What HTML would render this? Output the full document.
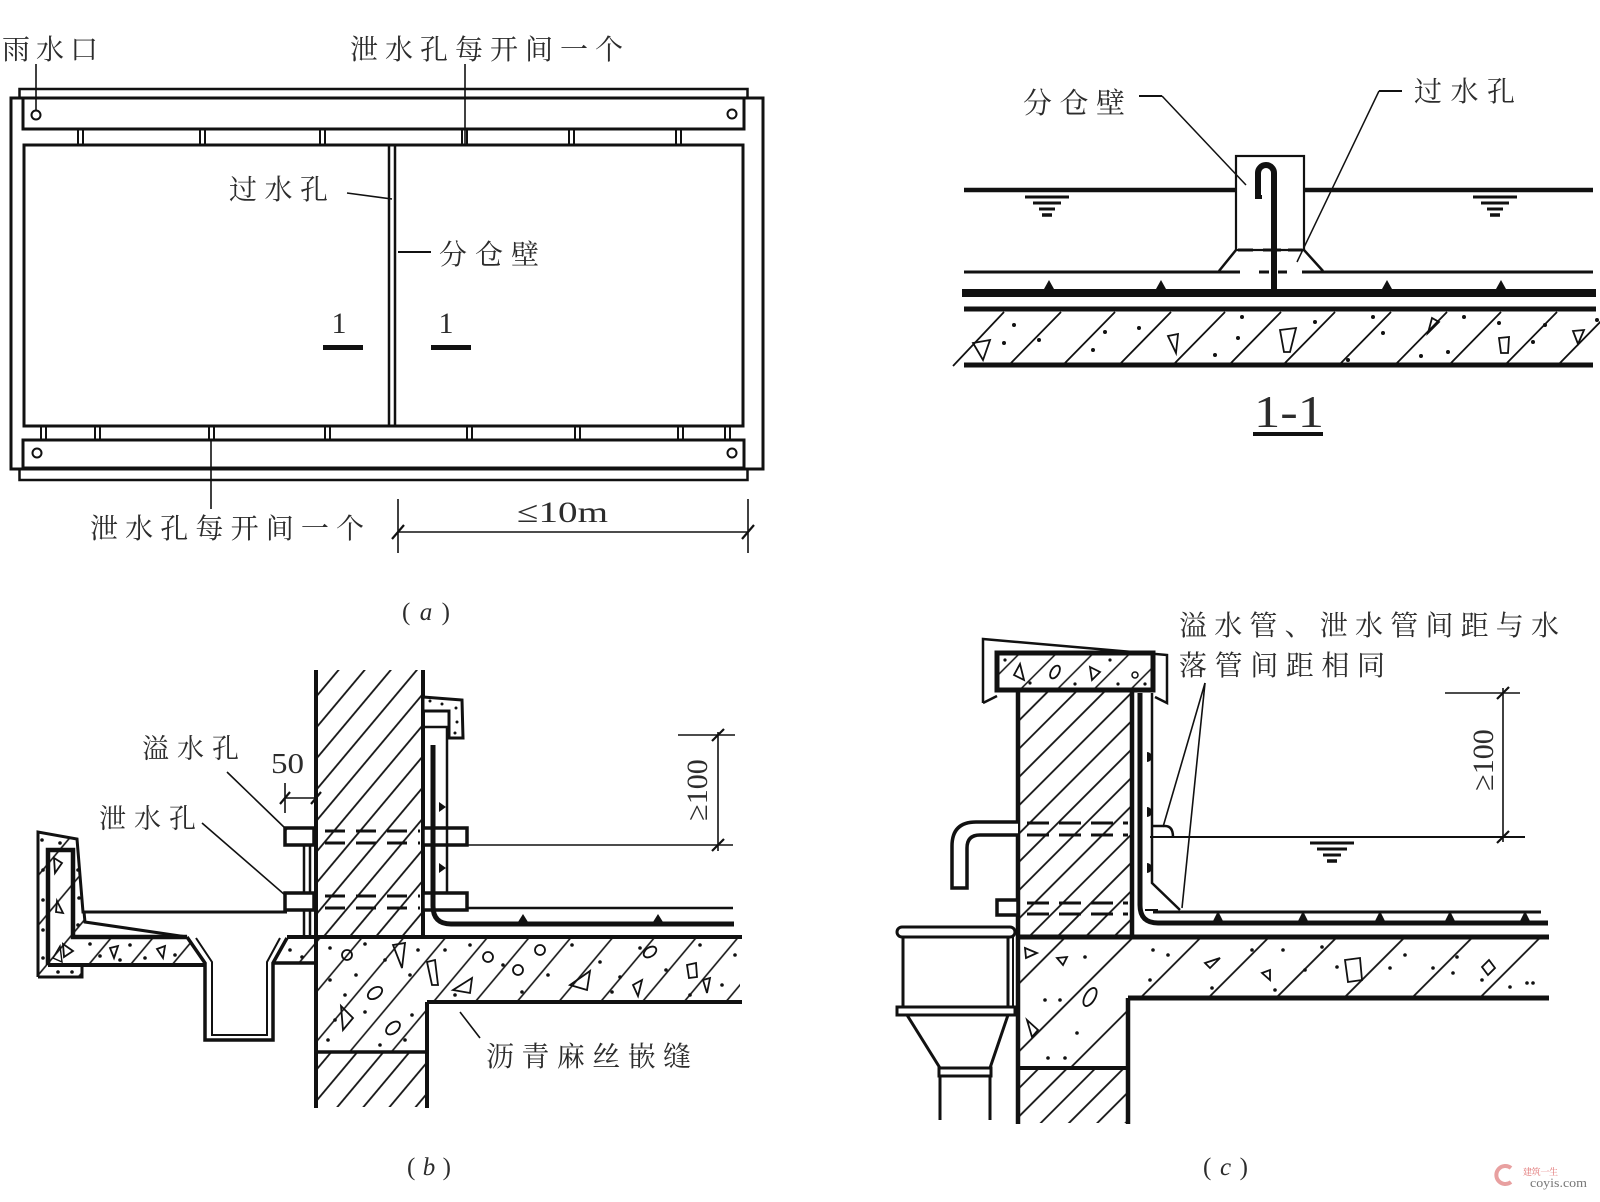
<!DOCTYPE html>
<html><head><meta charset="utf-8"><style>
html,body{margin:0;padding:0;background:#fff;}
svg{display:block;}
text{font-family:"Liberation Serif","Noto Serif CJK SC",serif;fill:#2c2c2c;}
</style></head><body>
<svg width="1600" height="1202" viewBox="0 0 1600 1202" xmlns="http://www.w3.org/2000/svg">
<defs>
<pattern id="hb" width="20" height="20" patternUnits="userSpaceOnUse" patternTransform="rotate(40)"><line x1="10" y1="-2" x2="10" y2="22" stroke="#111" stroke-width="1.8"/></pattern>
<pattern id="hc" width="20" height="20" patternUnits="userSpaceOnUse" patternTransform="rotate(45)"><line x1="10" y1="-2" x2="10" y2="22" stroke="#111" stroke-width="1.8"/></pattern>
<pattern id="sb" width="32" height="32" patternUnits="userSpaceOnUse" patternTransform="rotate(40)"><line x1="16" y1="-2" x2="16" y2="34" stroke="#111" stroke-width="1.6"/></pattern>
<pattern id="sc" width="48" height="48" patternUnits="userSpaceOnUse" patternTransform="rotate(45)"><line x1="24" y1="-2" x2="24" y2="50" stroke="#111" stroke-width="1.8"/></pattern>
<pattern id="sd" width="26" height="26" patternUnits="userSpaceOnUse" patternTransform="rotate(45)"><line x1="13" y1="-2" x2="13" y2="28" stroke="#111" stroke-width="1.5"/></pattern>
</defs>

<!-- ================= (a) PLAN ================= -->
<g stroke="#111" fill="none">
<rect x="19.5" y="89" width="728" height="9" stroke-width="2.5"/>
<rect x="11" y="98" width="752" height="371" stroke-width="3"/>
<rect x="23" y="98" width="721" height="31" stroke-width="3"/>
<rect x="24" y="145" width="719" height="281" stroke-width="3"/>
<rect x="23" y="440" width="721" height="28" stroke-width="3"/>
<rect x="19.5" y="469" width="728" height="11" stroke-width="2.5"/>
<g stroke-width="2">
<line x1="78" y1="129" x2="78" y2="145"/><line x1="83" y1="129" x2="83" y2="145"/>
<line x1="200" y1="129" x2="200" y2="145"/><line x1="205" y1="129" x2="205" y2="145"/>
<line x1="320" y1="129" x2="320" y2="145"/><line x1="325" y1="129" x2="325" y2="145"/>
<line x1="462" y1="129" x2="462" y2="145"/><line x1="467" y1="129" x2="467" y2="145"/>
<line x1="569" y1="129" x2="569" y2="145"/><line x1="574" y1="129" x2="574" y2="145"/>
<line x1="676" y1="129" x2="676" y2="145"/><line x1="681" y1="129" x2="681" y2="145"/>
<line x1="41" y1="426" x2="41" y2="440"/><line x1="46" y1="426" x2="46" y2="440"/>
<line x1="95" y1="426" x2="95" y2="440"/><line x1="100" y1="426" x2="100" y2="440"/>
<line x1="209" y1="426" x2="209" y2="440"/><line x1="214" y1="426" x2="214" y2="440"/>
<line x1="325" y1="426" x2="325" y2="440"/><line x1="330" y1="426" x2="330" y2="440"/>
<line x1="467" y1="426" x2="467" y2="440"/><line x1="472" y1="426" x2="472" y2="440"/>
<line x1="575" y1="426" x2="575" y2="440"/><line x1="580" y1="426" x2="580" y2="440"/>
<line x1="678" y1="426" x2="678" y2="440"/><line x1="683" y1="426" x2="683" y2="440"/>
<line x1="725" y1="426" x2="725" y2="440"/><line x1="730" y1="426" x2="730" y2="440"/>
</g>
<g stroke-width="2">
<circle cx="36" cy="115" r="4.5"/><circle cx="732" cy="114" r="4.5"/>
<circle cx="37" cy="453" r="4.5"/><circle cx="732" cy="453" r="4.5"/>
</g>
<line x1="389" y1="145" x2="389" y2="426" stroke-width="2.5"/>
<line x1="395" y1="145" x2="395" y2="426" stroke-width="2.5"/>
<g stroke-width="1.6">
<line x1="36" y1="64" x2="36" y2="110"/>
<line x1="465" y1="64" x2="465" y2="145"/>
<line x1="347" y1="193" x2="392" y2="199"/>
<line x1="398" y1="252" x2="431" y2="252" stroke-width="2"/>
<line x1="211" y1="440" x2="211" y2="509"/>
<line x1="398" y1="499" x2="398" y2="553"/>
<line x1="748" y1="499" x2="748" y2="553"/>
<line x1="398" y1="532" x2="748" y2="532"/>
<line x1="392" y1="539" x2="404" y2="525" stroke-width="2.2"/>
<line x1="742" y1="539" x2="754" y2="525" stroke-width="2.2"/>
</g>
</g>
<rect x="323" y="345" width="40" height="5" fill="#111"/>
<rect x="431" y="345" width="40" height="5" fill="#111"/>
<text x="2" y="59" font-size="28" textLength="96" lengthAdjust="spacing">雨水口</text>
<text x="350" y="59" font-size="28" textLength="273" lengthAdjust="spacing">泄水孔每开间一个</text>
<text x="229" y="199" font-size="28" textLength="99" lengthAdjust="spacing">过水孔</text>
<text x="439" y="264" font-size="28" textLength="100" lengthAdjust="spacing">分仓壁</text>
<text x="339" y="333" font-size="30" text-anchor="middle">1</text>
<text x="446" y="333" font-size="30" text-anchor="middle">1</text>
<text x="90" y="538" font-size="28" textLength="274" lengthAdjust="spacing">泄水孔每开间一个</text>
<text x="517" y="522" font-size="30" textLength="91" lengthAdjust="spacingAndGlyphs">≤10m</text>
<text x="402" y="620" font-size="25" textLength="48" lengthAdjust="spacing">( <tspan font-style="italic">a</tspan> )</text>

<!-- ================= 1-1 SECTION ================= -->
<g stroke="#111" fill="none">
<rect x="1236" y="156" width="68" height="94" stroke-width="2.2"/>
<line x1="964" y1="190" x2="1236" y2="190" stroke-width="4.5"/>
<line x1="1304" y1="190" x2="1593" y2="190" stroke-width="4.5"/>
<g stroke-width="3">
<line x1="1025" y1="197" x2="1069" y2="197"/><line x1="1033" y1="203" x2="1061" y2="203"/>
<line x1="1039" y1="209" x2="1055" y2="209"/><line x1="1042" y1="215" x2="1052" y2="215" stroke-width="3.5"/>
<line x1="1473" y1="197" x2="1517" y2="197"/><line x1="1481" y1="203" x2="1509" y2="203"/>
<line x1="1487" y1="209" x2="1503" y2="209"/><line x1="1490" y1="215" x2="1500" y2="215" stroke-width="3.5"/>
</g>
<path d="M1258,198 L1258,173 A8,8 0 0 1 1274,173 L1274,291" stroke-width="6"/>
<line x1="1255" y1="197" x2="1262" y2="197" stroke-width="4"/>
<g stroke-width="3">
<line x1="1238" y1="250" x2="1253" y2="250"/><line x1="1263" y1="250" x2="1281" y2="250"/><line x1="1288" y1="250" x2="1302" y2="250"/>
<line x1="964" y1="272" x2="1240" y2="272"/><line x1="1259" y1="272" x2="1269" y2="272"/><line x1="1278" y1="272" x2="1287" y2="272"/><line x1="1302" y1="272" x2="1593" y2="272"/>
</g>
<line x1="1236" y1="250" x2="1219" y2="271" stroke-width="2.5"/>
<line x1="1304" y1="250" x2="1323" y2="271" stroke-width="2.5"/>
<line x1="962" y1="293" x2="1596" y2="293" stroke-width="8"/>
<line x1="964" y1="309" x2="1596" y2="309" stroke-width="5"/>
<line x1="964" y1="365" x2="1593" y2="365" stroke-width="5"/>
<g stroke-width="1.8">
<line x1="953" y1="366" x2="1004" y2="312"/><line x1="1010" y1="364" x2="1061" y2="312"/>
<line x1="1064" y1="364" x2="1115" y2="312"/><line x1="1120" y1="364" x2="1171" y2="312"/>
<line x1="1174" y1="364" x2="1225" y2="312"/><line x1="1230" y1="364" x2="1281" y2="312"/>
<line x1="1284" y1="364" x2="1335" y2="312"/><line x1="1340" y1="364" x2="1391" y2="312"/>
<line x1="1396" y1="364" x2="1447" y2="312"/><line x1="1450" y1="364" x2="1501" y2="312"/>
<line x1="1506" y1="364" x2="1557" y2="312"/><line x1="1559" y1="364" x2="1610" y2="312"/>
</g>
<g stroke-width="1.8">
<polygon points="973,343 990,340 983,360"/>
<polygon points="1168,336 1178,334 1176,353"/>
<polygon points="1280,330 1296,328 1290,352 1284,352"/>
<polygon points="1428,333 1432,318 1439,322"/>
<polygon points="1499,338 1509,337 1508,353 1501,353"/>
<polygon points="1573,331 1584,330 1578,344"/>
</g>
<g stroke-width="1.5">
<line x1="1139" y1="96" x2="1162" y2="96" stroke-width="2"/>
<line x1="1162" y1="96" x2="1246" y2="185"/>
<line x1="1402" y1="91" x2="1379" y2="91" stroke-width="2"/>
<line x1="1379" y1="91" x2="1297" y2="262"/>
</g>
<line x1="1253" y1="434" x2="1323" y2="434" stroke-width="4"/>
</g>
<g fill="#111">
<path d="M1049,280 L1054,289 L1044,289Z M1161,280 L1166,289 L1156,289Z M1387,280 L1392,289 L1382,289Z M1501,280 L1506,289 L1496,289Z"/>
<circle cx="1014" cy="325" r="2"/><circle cx="1004" cy="343" r="2"/><circle cx="1039" cy="340" r="2"/>
<circle cx="1105" cy="332" r="2"/><circle cx="1139" cy="328" r="2"/><circle cx="1093" cy="350" r="2"/>
<circle cx="1242" cy="317" r="2"/><circle cx="1238" cy="338" r="2"/><circle cx="1215" cy="355" r="2"/>
<circle cx="1315" cy="322" r="2"/><circle cx="1373" cy="317" r="2"/><circle cx="1383" cy="333" r="2"/>
<circle cx="1348" cy="360" r="2"/><circle cx="1464" cy="317" r="2"/><circle cx="1448" cy="352" r="2"/>
<circle cx="1421" cy="356" r="2"/><circle cx="1499" cy="323" r="2"/><circle cx="1545" cy="325" r="2"/>
<circle cx="1533" cy="342" r="2"/><circle cx="1597" cy="320" r="2"/>
</g>
<text x="1023" y="113" font-size="29" textLength="102" lengthAdjust="spacing">分仓壁</text>
<text x="1414" y="101" font-size="28" textLength="101" lengthAdjust="spacing">过水孔</text>
<text x="1254" y="427" font-size="46" textLength="70" lengthAdjust="spacingAndGlyphs">1-1</text>

<!-- ================= (b) ================= -->
<!-- hatched fills -->
<rect x="316" y="670" width="107" height="267" fill="url(#hb)"/>
<rect x="316" y="1052" width="111" height="55" fill="url(#hb)"/>
<polygon points="38,832 77,839 84,923 84,937 187,937 205,963 205,967 82,967 82,977 38,977" fill="url(#sb)"/>
<polygon points="273,963 287,938 740,938 740,1002 427,1002 427,1052 316,1052 316,963" fill="url(#sb)"/>
<!-- white inside gutter upturn -->
<g stroke="#111" fill="none" stroke-linejoin="miter">
<!-- parapet outer -->
<path d="M38,977 L38,832 L77,839 L83,912 L287,912" stroke-width="3"/>
<path d="M84,912 L85,922 L187,937" stroke-width="3"/>
<path d="M38,977 L82,977 L82,965" stroke-width="3"/>
<!-- inner waterproof thick -->
<path d="M48,965 L48,850 L73,850 L73,937 L187,937" stroke-width="4.5"/>
<path d="M48,965 L205,965" stroke-width="4"/>
<!-- drain -->
<path d="M187,937 L205,963 L205,1040 L273,1040 L273,963 L287,938" stroke-width="3.5"/>
<path d="M196,938 L212,962 L212,1035 L267,1035 L267,962 L280,938" stroke-width="2"/>
<line x1="273" y1="963" x2="316" y2="963" stroke-width="3.5"/>
<!-- slab -->
<line x1="287" y1="937" x2="742" y2="937" stroke-width="4"/>
<line x1="427" y1="1002" x2="742" y2="1002" stroke-width="4"/>
<!-- wall -->
<line x1="316" y1="670" x2="316" y2="1108" stroke-width="4"/>
<line x1="423" y1="670" x2="423" y2="937" stroke-width="4"/>
<line x1="427" y1="1002" x2="427" y2="1108" stroke-width="4"/>
<line x1="316" y1="1052" x2="427" y2="1052" stroke-width="3.5"/>
<!-- small vertical member -->
<line x1="304" y1="845" x2="304" y2="937" stroke-width="2.5"/>
<line x1="310" y1="845" x2="310" y2="937" stroke-width="2.5"/>
<!-- pipes -->
<rect x="285" y="828" width="29" height="17" stroke-width="3.5" fill="#fff"/>
<rect x="285" y="893" width="29" height="17" stroke-width="3.5" fill="#fff"/>
<g stroke-width="3" stroke-dasharray="20 11">
<line x1="325" y1="831" x2="420" y2="831"/><line x1="325" y1="843" x2="420" y2="843"/>
<line x1="325" y1="896" x2="420" y2="896"/><line x1="325" y1="908" x2="420" y2="908"/>
</g>
<rect x="423" y="828" width="44" height="17" stroke-width="3.5" fill="#fff"/>
<rect x="423" y="893" width="44" height="17" stroke-width="3.5" fill="#fff"/>
<!-- cap -->
<polygon points="423,697 462,700 463,738 449,738 449,711 423,711" stroke-width="3" fill="#fff"/>
<!-- protective thin -->
<path d="M423,727 L447,727 L447,893" stroke-width="2.5"/>
<line x1="467" y1="908" x2="733" y2="908" stroke-width="2.5"/>
<!-- membrane -->
<path d="M433,745 L433,906 Q433,924 451,924 L734,924" stroke-width="5"/>
<!-- dims -->
<g stroke-width="1.6">
<line x1="284" y1="798" x2="318" y2="798"/>
<line x1="285" y1="783" x2="285" y2="813"/>
<line x1="280" y1="804" x2="290" y2="792" stroke-width="2.2"/>
<line x1="311" y1="804" x2="321" y2="792" stroke-width="2.2"/>
<line x1="227" y1="772" x2="287" y2="830"/>
<line x1="202" y1="823" x2="285" y2="895"/>
<line x1="718" y1="732" x2="718" y2="851"/>
<line x1="678" y1="735" x2="735" y2="735"/>
<line x1="467" y1="845" x2="733" y2="845"/>
<line x1="712" y1="741" x2="724" y2="729" stroke-width="2.2"/>
<line x1="712" y1="851" x2="724" y2="839" stroke-width="2.2"/>
<line x1="460" y1="1012" x2="480" y2="1038"/>
</g>
<!-- aggregates -->
<g stroke-width="1.8">
<circle cx="347" cy="955" r="5"/>
<ellipse cx="375" cy="993" rx="8" ry="5" transform="rotate(-35 375 993)"/>
<ellipse cx="393" cy="1028" rx="8" ry="5" transform="rotate(-40 393 1028)"/>
<circle cx="488" cy="957" r="5"/><circle cx="518" cy="970" r="5"/><circle cx="540" cy="950" r="5"/>
<ellipse cx="650" cy="952" rx="7" ry="4.5" transform="rotate(-35 650 952)"/>
<polygon points="393,945 405,943 402,968"/>
<polygon points="341,1006 353,1018 343,1030"/>
<polygon points="427,962 435,960 438,985 432,985"/>
<polygon points="453,990 472,978 470,993"/>
<polygon points="570,985 590,971 587,990"/>
<polygon points="633,985 642,980 638,996"/>
<polygon points="687,965 696,963 697,977 689,978"/>
<polygon points="703,980 710,978 707,993"/>
<polygon points="54,858 62,863 55,873"/>
<polygon points="57,901 63,913 56,912"/>
<polygon points="63,944 73,951 64,957"/>
<polygon points="110,948 118,946 114,958"/>
<polygon points="157,949 165,946 163,958"/>
<polygon points="53,958 60,946 62,962" stroke-width="1.4"/>
</g>
</g>
<g fill="#111">
<circle cx="42" cy="840" r="1.8"/><circle cx="60" cy="843" r="1.8"/><circle cx="43" cy="870" r="1.8"/>
<circle cx="78" cy="870" r="1.8"/><circle cx="43" cy="900" r="1.8"/><circle cx="79" cy="898" r="1.8"/>
<circle cx="43" cy="930" r="1.8"/><circle cx="78" cy="925" r="1.8"/><circle cx="43" cy="958" r="1.8"/>
<circle cx="58" cy="972" r="1.8"/><circle cx="72" cy="972" r="1.8"/><circle cx="90" cy="944" r="1.8"/>
<circle cx="100" cy="956" r="1.8"/><circle cx="130" cy="945" r="1.8"/><circle cx="145" cy="958" r="1.8"/>
<circle cx="175" cy="955" r="1.8"/><circle cx="120" cy="960" r="1.8"/>
<circle cx="290" cy="950" r="1.8"/><circle cx="302" cy="957" r="1.8"/><circle cx="330" cy="948" r="1.8"/>
<circle cx="365" cy="944" r="1.8"/><circle cx="385" cy="960" r="1.8"/><circle cx="330" cy="980" r="1.8"/>
<circle cx="356" cy="975" r="1.8"/><circle cx="410" cy="975" r="1.8"/><circle cx="335" cy="1020" r="1.8"/>
<circle cx="365" cy="1012" r="1.8"/><circle cx="412" cy="1015" r="1.8"/><circle cx="328" cy="1040" r="1.8"/>
<circle cx="380" cy="1045" r="1.8"/><circle cx="345" cy="995" r="1.8"/><circle cx="405" cy="1040" r="1.8"/>
<circle cx="418" cy="950" r="1.8"/><circle cx="445" cy="950" r="1.8"/><circle cx="470" cy="945" r="1.8"/>
<circle cx="503" cy="965" r="1.8"/><circle cx="522" cy="992" r="1.8"/><circle cx="548" cy="975" r="1.8"/>
<circle cx="572" cy="945" r="1.8"/><circle cx="600" cy="962" r="1.8"/><circle cx="612" cy="992" r="1.8"/>
<circle cx="640" cy="948" r="1.8"/><circle cx="666" cy="970" r="1.8"/><circle cx="700" cy="945" r="1.8"/>
<circle cx="722" cy="985" r="1.8"/><circle cx="690" cy="995" r="1.8"/><circle cx="455" cy="995" r="1.8"/>
<circle cx="620" cy="977" r="1.8"/><circle cx="735" cy="955" r="1.8"/>
<circle cx="430" cy="701" r="1.5"/><circle cx="442" cy="704" r="1.5"/><circle cx="456" cy="708" r="1.5"/>
<circle cx="457" cy="722" r="1.5"/><circle cx="455" cy="733" r="1.5"/>
<path d="M439,802 L446,807 L439,812Z M439,863 L446,868 L439,873Z"/>
<path d="M523,914 L528,922 L518,922Z M658,914 L663,922 L653,922Z"/>
</g>
<text x="142" y="758" font-size="27" textLength="97" lengthAdjust="spacing">溢水孔</text>
<text x="271" y="773" font-size="28" textLength="33" lengthAdjust="spacingAndGlyphs">50</text>
<text x="99" y="828" font-size="27" textLength="97" lengthAdjust="spacing">泄水孔</text>
<text transform="translate(707,790) rotate(-90)" font-size="30" text-anchor="middle">≥100</text>
<text x="486" y="1066" font-size="28" textLength="205" lengthAdjust="spacing">沥青麻丝嵌缝</text>
<text x="407" y="1175" font-size="25" textLength="44" lengthAdjust="spacing">( <tspan font-style="italic">b</tspan> )</text>

<!-- ================= (c) ================= -->
<rect x="1018" y="690" width="114" height="247" fill="url(#hc)"/>
<rect x="1018" y="1068" width="110" height="55" fill="url(#hc)"/>
<polygon points="1018,937 1547,937 1547,998 1128,998 1128,1068 1018,1068" fill="url(#sc)"/>
<rect x="997" y="653" width="156" height="37" fill="url(#sd)"/>
<g stroke="#111" fill="none">
<!-- coping -->
<path d="M983,703 L983,639 L1167,655 L1167,703 L1155,697" stroke-width="2.5"/>
<path d="M983,703 L997,696" stroke-width="2.5"/>
<rect x="997" y="653" width="156" height="37" stroke-width="5"/>
<polygon points="1014,675 1020,664 1024,680" stroke-width="1.8"/>
<ellipse cx="1055" cy="672" rx="4" ry="7" transform="rotate(30 1055 672)" stroke-width="1.8"/>
<polygon points="1090,667 1100,672 1092,680" stroke-width="1.8"/>
<circle cx="1135" cy="675" r="3" stroke-width="1.5"/>
<!-- wall -->
<line x1="1018" y1="690" x2="1018" y2="1124" stroke-width="4.5"/>
<line x1="1132" y1="690" x2="1132" y2="937" stroke-width="4.5"/>
<line x1="1128" y1="998" x2="1128" y2="1124" stroke-width="4.5"/>
<line x1="1018" y1="1068" x2="1128" y2="1068" stroke-width="4"/>
<line x1="1018" y1="937" x2="1549" y2="937" stroke-width="5"/>
<line x1="1128" y1="998" x2="1549" y2="998" stroke-width="5"/>
<g stroke-width="3" stroke-dasharray="22 10">
<line x1="1027" y1="823" x2="1128" y2="823"/><line x1="1027" y1="835" x2="1128" y2="835"/>
<line x1="1027" y1="903" x2="1128" y2="903"/><line x1="1027" y1="914" x2="1128" y2="914"/>
</g>
<!-- flashing -->
<path d="M1140,693 L1140,905 Q1140,923 1158,923 L1548,923" stroke-width="5"/>
<path d="M1152,693 L1152,883 L1180,910" stroke-width="2.5"/>
<line x1="1153" y1="912" x2="1541" y2="912" stroke-width="3"/>
<line x1="1145" y1="910" x2="1158" y2="910" stroke-width="2"/>
<!-- overflow pipe -->
<path d="M1018,822 L976,822 Q952,822 952,846 L952,888 L967,888 L967,848 Q967,835 980,835 L1018,835" stroke-width="3.5" fill="#fff"/>
<path d="M1153,826 L1165,826 Q1173,826 1173,837" stroke-width="2.5"/>
<rect x="997" y="900" width="21" height="15" stroke-width="3.5" fill="#fff"/>
<!-- water line -->
<line x1="1150" y1="837" x2="1525" y2="837" stroke-width="2"/>
<g stroke-width="3">
<line x1="1310" y1="843" x2="1354" y2="843"/><line x1="1317" y1="849" x2="1347" y2="849"/>
<line x1="1323" y1="855" x2="1341" y2="855"/><line x1="1327" y1="861" x2="1337" y2="861" stroke-width="3.5"/>
</g>
<!-- dim -->
<g stroke-width="1.6">
<line x1="1503" y1="688" x2="1503" y2="842"/>
<line x1="1445" y1="693" x2="1520" y2="693"/>
<line x1="1497" y1="699" x2="1509" y2="687" stroke-width="2.2"/>
<line x1="1497" y1="843" x2="1509" y2="831" stroke-width="2.2"/>
<line x1="1205" y1="683" x2="1163" y2="827"/>
<line x1="1205" y1="683" x2="1182" y2="908"/>
</g>
<!-- hopper -->
<rect x="897" y="927" width="118" height="10" rx="5" stroke-width="3" fill="#fff"/>
<line x1="903" y1="937" x2="903" y2="1007" stroke-width="3"/>
<line x1="1008" y1="937" x2="1008" y2="1007" stroke-width="3"/>
<line x1="1013" y1="937" x2="1013" y2="1007" stroke-width="2"/>
<rect x="897" y="1007" width="118" height="8" stroke-width="3"/>
<line x1="907" y1="1015" x2="940" y2="1068" stroke-width="3"/>
<line x1="1008" y1="1015" x2="990" y2="1068" stroke-width="3"/>
<rect x="939" y="1068" width="52" height="8" stroke-width="3"/>
<line x1="940" y1="1076" x2="940" y2="1120" stroke-width="3"/>
<line x1="990" y1="1076" x2="990" y2="1120" stroke-width="3"/>
<!-- aggregates -->
<g stroke-width="1.8">
<polygon points="1025,948 1037,953 1026,958"/>
<polygon points="1057,958 1067,957 1063,965"/>
<ellipse cx="1090" cy="997" rx="5" ry="10" transform="rotate(30 1090 997)"/>
<polygon points="1027,1020 1038,1030 1032,1037"/>
<polygon points="1205,963 1220,958 1210,968"/>
<polygon points="1262,973 1270,970 1270,980"/>
<polygon points="1345,960 1360,958 1362,980 1348,982"/>
<polygon points="1482,967 1489,960 1495,968 1488,975"/>
</g>
</g>
<g fill="#111">
<circle cx="1005" cy="660" r="1.6"/><circle cx="1030" cy="683" r="1.6"/><circle cx="1075" cy="684" r="1.6"/>
<circle cx="1110" cy="660" r="1.6"/><circle cx="1145" cy="684" r="1.6"/><circle cx="1118" cy="684" r="1.6"/>
<circle cx="1085" cy="957" r="1.8"/><circle cx="1045" cy="1000" r="1.8"/><circle cx="1060" cy="1000" r="1.8"/>
<circle cx="1077" cy="1033" r="1.8"/><circle cx="1048" cy="1058" r="1.8"/><circle cx="1065" cy="1058" r="1.8"/>
<circle cx="1153" cy="950" r="1.8"/><circle cx="1168" cy="955" r="1.8"/><circle cx="1150" cy="980" r="1.8"/>
<circle cx="1212" cy="988" r="1.8"/><circle cx="1252" cy="950" r="1.8"/><circle cx="1283" cy="950" r="1.8"/>
<circle cx="1322" cy="947" r="1.8"/><circle cx="1305" cy="970" r="1.8"/><circle cx="1337" cy="967" r="1.8"/>
<circle cx="1275" cy="990" r="1.8"/><circle cx="1405" cy="955" r="1.8"/><circle cx="1390" cy="968" r="1.8"/>
<circle cx="1433" cy="968" r="1.8"/><circle cx="1453" cy="973" r="1.8"/><circle cx="1457" cy="957" r="1.8"/>
<circle cx="1482" cy="980" r="1.8"/><circle cx="1510" cy="987" r="1.8"/><circle cx="1527" cy="983" r="1.8"/>
<circle cx="1533" cy="983" r="1.8"/>
<path d="M1147,752 A5,5 0 0 1 1147,762Z M1147,807 A5,5 0 0 1 1147,817Z M1147,863 A5,5 0 0 1 1147,873Z"/>
<path d="M1218,911 L1223,921 L1213,921Z M1303,911 L1308,921 L1298,921Z M1380,911 L1385,921 L1375,921Z M1450,911 L1455,921 L1445,921Z M1525,911 L1530,921 L1520,921Z"/>
</g>
<text x="1179" y="635" font-size="28" textLength="380" lengthAdjust="spacing">溢水管、泄水管间距与水</text>
<text x="1179" y="675" font-size="28" textLength="206" lengthAdjust="spacing">落管间距相同</text>
<text transform="translate(1493,760) rotate(-90)" font-size="30" text-anchor="middle">≥100</text>
<text x="1203" y="1175" font-size="25" textLength="45" lengthAdjust="spacing">( <tspan font-style="italic">c</tspan> )</text>

<!-- watermark -->
<path d="M1511,1168 A9,9 0 1 0 1511,1182" fill="none" stroke="#e8a0a0" stroke-width="4"/>
<text x="1523" y="1175" font-size="9" style="fill:#e07070" textLength="35" lengthAdjust="spacing">建筑一生</text>
<text x="1530" y="1187" font-size="13" style="fill:#777" textLength="57" lengthAdjust="spacingAndGlyphs">coyis.com</text>
</svg>
</body></html>
